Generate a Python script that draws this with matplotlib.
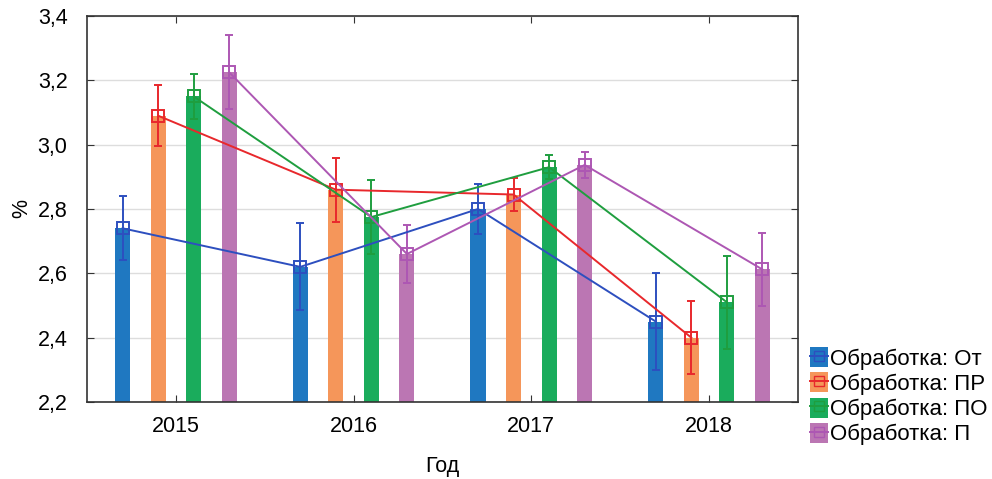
import numpy as np
import matplotlib.pyplot as plt
from matplotlib.patches import Patch
from matplotlib.lines import Line2D

plt.rcParams['font.family'] = ['Liberation Sans', 'DejaVu Sans']

years = ["2015", "2016", "2017", "2018"]
labels = ["Обработка: От", "Обработка: ПР", "Обработка: ПО", "Обработка: П"]

ot = [2.74, 2.62, 2.80, 2.45]
pr = [3.09, 2.86, 2.845, 2.40]
po = [3.15, 2.775, 2.93, 2.51]
p = [3.225, 2.66, 2.937, 2.612]

ot_err = [0.10, 0.135, 0.078, 0.15]
pr_err = [0.095, 0.10, 0.05, 0.113]
po_err = [0.07, 0.115, 0.038, 0.145]
p_err = [0.115, 0.09, 0.04, 0.113]

values = [ot, pr, po, p]
errors = [ot_err, pr_err, po_err, p_err]
bar_colors = ["#1f78c1", "#f5965a", "#1aac5c", "#bb76b3"]
line_colors = ["#2d4fbf", "#e8282c", "#1f9e3f", "#ad57b3"]

fig = plt.figure(figsize=(9.92, 4.79), dpi=100)
ax = fig.add_axes([0.0877, 0.1608, 0.7167, 0.8058])

x = np.arange(len(years))
offsets = [-0.3, -0.1, 0.1, 0.3]
handles = []
for i in range(4):
    xs = x + offsets[i]
    ax.bar(xs, np.array(values[i]) - 2.2, bottom=2.2, width=0.085,
           color=bar_colors[i], zorder=2)
    ax.errorbar(xs, values[i], yerr=errors[i], color=line_colors[i], lw=1.4,
                marker='s', ms=9, mfc='none', mew=1.4, capsize=3, capthick=1.4,
                zorder=3)
    handles.append((Patch(facecolor=bar_colors[i]),
                    Line2D([], [], color=line_colors[i], marker='s', ms=7,
                           mfc='none', lw=1.4)))

ax.set_xlim(-0.5, 3.5)
ax.set_ylim(2.2, 3.4)
ax.set_xticks(x)
ax.set_xticklabels(years)
yt = np.arange(2.2, 3.41, 0.2)
ax.set_yticks(yt)
ax.set_yticklabels([f"{v:.1f}".replace(".", ",") for v in yt])
ax.grid(axis='y', color='#dddddd', lw=1, zorder=0)
ax.set_axisbelow(True)
ax.tick_params(direction='in', top=True, right=True, labelsize=15.5,
               length=5, color='#333333')
ax.tick_params(axis='x', pad=10)
ax.tick_params(axis='y', pad=14)
for s in ax.spines.values():
    s.set_color('#333333')
    s.set_linewidth(1.2)

ax.set_xlabel("Год", fontsize=15.5, labelpad=14)
ax.set_ylabel("%", fontsize=15.5, labelpad=4)

fig.legend(handles, labels, loc='lower left', bbox_to_anchor=(0.817, 0.07),
           frameon=False, fontsize=16, handlelength=0.8, handleheight=1.0,
           handletextpad=0.1, labelspacing=0.12, borderaxespad=0,
           borderpad=0)

fig.savefig("out.png", dpi=100)
